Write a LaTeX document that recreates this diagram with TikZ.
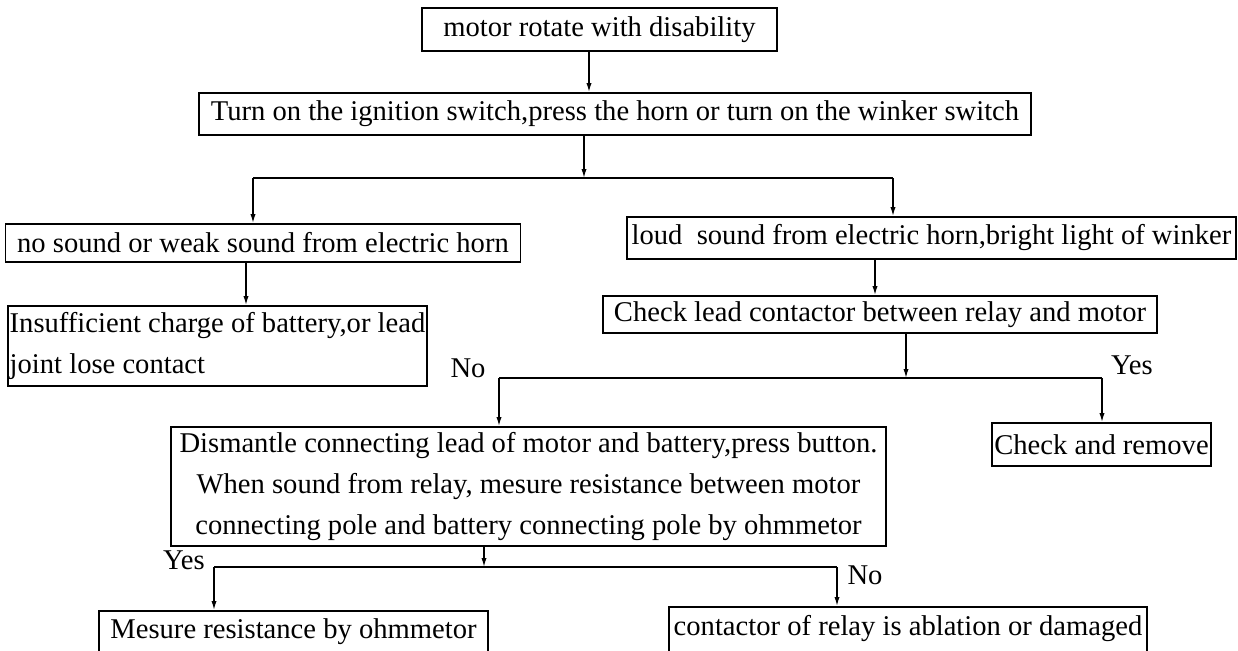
\documentclass[tikz,border=0pt]{standalone}
\usepackage{fontspec}
\setmainfont{Liberation Serif}
\usetikzlibrary{arrows.meta,positioning,calc}
\tikzset{
  caja/.style={draw,line width=0.9pt,inner sep=2pt,align=center,
               font=\fontsize{14.3}{20.5}\selectfont},
  cajabaja/.style={caja,anchor=north,inner ysep=4pt,text depth=40pt},
  flecha/.style={-{Latex[length=4.5pt,width=2.6pt]},line width=0.7pt},
  linea/.style={line width=0.7pt},
  etiq/.style={font=\fontsize{14.3}{16}\selectfont}
}
\begin{document}
\begin{tikzpicture}[x=0.5pt,y=-0.5pt]
        \useasboundingbox[fill=white] (0,0) rectangle (1238,650);
        \clip (0,0) rectangle (1238,650);
        % --- cajas ---
        \node[caja,minimum width=177.5pt,minimum height=21.5pt] (b1) at (599.5,29.5)
              {motor rotate with disability};
        \node[caja,minimum width=416pt,minimum height=21pt] (b2) at (615,114)
              {Turn on the ignition switch,press the horn or turn on the winker switch};
        \node[caja,minimum width=257.5pt,minimum height=19pt] (b3) at (263,243)
              {no sound or weak sound from electric horn};
        \node[caja,minimum width=304.5pt,minimum height=21pt] (b4) at (931.5,238)
              {loud\ \ sound from electric horn,bright light of winker};
        \node[caja,minimum width=206.5pt,minimum height=40pt,align=left,inner xsep=1pt] (b5) at (217.5,346)
              {Insufficient charge of battery,or lead\\joint lose contact\hfill\hbox{}};
        \node[caja,minimum width=277pt,minimum height=18.5pt] (b6) at (880,314.5)
              {Check lead contactor between relay and motor};
        \node[caja,minimum width=357.5pt,minimum height=59.5pt] (b7) at (528.5,486.5)
              {Dismantle connecting lead of motor and battery,press button.\\
               When sound from relay, mesure resistance between motor\\
               connecting pole and battery connecting pole by ohmmetor};
        \node[caja,minimum width=109.5pt,minimum height=21.5pt,inner xsep=1pt] (b8) at (1101.5,444.5)
              {Check and remove};
        \node[cajabaja,minimum width=194.5pt] (b9) at (293.5,610)
              {Mesure resistance by ohmmetor};
        \node[cajabaja,minimum width=239pt] (b10) at (908,606)
              {contactor of relay is ablation or damaged};
        % --- puntos de bifurcacion ---
        \coordinate (x1) at (589,0);  \coordinate (x2) at (246,0);  \coordinate (x3) at (875,0);
        \coordinate (j1) at (584,178); \coordinate (j1l) at (253,178); \coordinate (j1r) at (893,178);
        \coordinate (j2) at (906,378); \coordinate (j2l) at (499,378); \coordinate (j2r) at (1102,378);
        \coordinate (j3) at (484,567); \coordinate (j3l) at (214,567); \coordinate (j3r) at (837,567);
        % --- flechas directas ---
        \draw[flecha] (b1.south -| x1) -- (b2.north -| x1);
        \draw[flecha] (b3.south -| x2) -- (b5.north -| x2);
        \draw[flecha] (b4.south -| x3) -- (b6.north -| x3);
        % --- ramas ---
        \foreach \P/\J/\L/\R/\A/\B in {b2/j1/j1l/j1r/b3/b4,b6/j2/j2l/j2r/b7/b8,b7/j3/j3l/j3r/b9/b10}{
          \draw[flecha] (\P.south -| \J) -- (\J);
          \draw[linea] (\L) -- (\R);
          \draw[flecha] (\L) -- (\A.north -| \L);
          \draw[flecha] (\R) -- (\B.north -| \R);
        }
        % --- etiquetas ---
        \node[etiq] (no1) at (468,368) {No};
        \node[etiq] (si1) at (1132,365) {Yes};
        \node[etiq] (si2) at (184,560) {Yes};
        \node[etiq] (no2) at (865,575) {No};
      \end{tikzpicture}
\end{document}
